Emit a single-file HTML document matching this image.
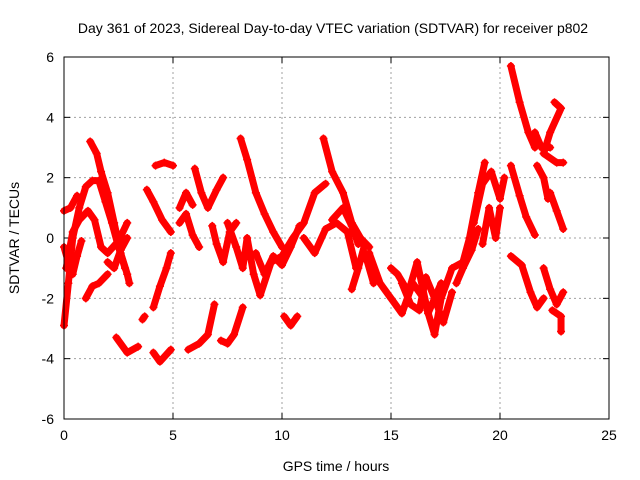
<!DOCTYPE html>
<html><head><meta charset="utf-8"><style>
body{margin:0;background:#fff;}
svg{display:block;font-family:"Liberation Sans",sans-serif;}
</style></head><body>
<svg id="chart" width="640" height="480">
<text x="333" y="33" font-size="14" text-anchor="middle">Day 361 of 2023, Sidereal Day-to-day VTEC variation (SDTVAR) for receiver p802</text>
<text x="336" y="471" font-size="14" text-anchor="middle">GPS time / hours</text>
<text transform="translate(19,238) rotate(-90)" font-size="14" text-anchor="middle">SDTVAR / TECUs</text>
<g id="grid"></g><g id="ticks"></g><g id="marks"></g>
<rect x="64" y="57" width="545" height="362" fill="none" stroke="#000" stroke-width="1"/>
</svg>
<script>
const xTicks=[0,5,10,15,20,25];
const yTicks=[-6,-4,-2,0,2,4,6];
const tracks=[
[[0,-2.9],[0.2,-1.5],[0.4,0],[0.7,1],[1,1.7],[1.3,1.9],[1.6,1.9],[1.9,1.2],[2.2,0.5],[2.5,-0.3],[2.8,-1.0]],
[[1.2,3.2],[1.5,2.8],[1.7,2.2],[2.0,1.5],[2.3,0.5],[2.6,-0.5],[2.9,-1.2],[3.0,-1.5]],
[[0.1,-1.0],[0.4,0.2],[0.7,0.6],[1.1,0.9],[1.4,0.6],[1.7,-0.3],[2.0,-0.5],[2.5,-0.1],[2.9,0.5]],
[[0,0.9],[0.3,1.0],[0.6,1.4]],
[[0,-0.3],[0.2,-0.8],[0.4,-1.2],[0.6,-0.6],[0.8,-0.1]],
[[1.0,-2.0],[1.3,-1.6],[1.6,-1.5],[2.0,-1.2]],
[[2.0,-0.8],[2.3,-1.0],[2.6,-0.4],[2.9,0.0]],
[[2.4,-3.3],[2.9,-3.8],[3.4,-3.6]],
[[3.6,-2.7],[3.7,-2.6]],
[[4.1,-3.8],[4.4,-4.1],[4.9,-3.7]],
[[4.1,-2.3],[4.4,-1.6],[4.7,-1.0],[4.9,-0.5]],
[[4.2,2.4],[4.6,2.5],[5.0,2.4]],
[[3.8,1.6],[4.1,1.2],[4.5,0.6],[4.9,0.2]],
[[5.3,1.0],[5.6,1.5],[5.9,1.1]],
[[5.3,0.5],[5.6,0.8],[5.9,0.1],[6.2,-0.3]],
[[6.0,2.3],[6.3,1.5],[6.6,1.0],[7.0,1.6],[7.3,2.0]],
[[6.8,0.4],[7.0,-0.2],[7.3,-0.8],[7.6,0.2],[7.9,0.5]],
[[5.7,-3.7],[6.2,-3.5],[6.6,-3.2],[6.9,-2.2]],
[[7.2,-3.4],[7.5,-3.5],[7.8,-3.2],[8.2,-2.3]],
[[8.1,3.3],[8.4,2.6],[8.8,1.5],[9.2,0.8],[9.6,0.2],[10,-0.3]],
[[7.5,0.5],[7.9,-0.3],[8.2,-1.0],[8.4,0.0],[8.7,-1.2],[9.0,-1.9],[9.5,-0.8],[10,-0.6],[10.5,0],[11,0.5],[11.5,1.5],[12,1.8]],
[[8.8,-0.5],[9.2,-1.2],[9.6,-0.6],[10.0,-0.9],[10.4,-0.3],[10.8,0.4]],
[[10.1,-2.6],[10.4,-2.9],[10.7,-2.6]],
[[11.9,3.3],[12.3,2.2],[12.8,1.5],[13.2,0.5],[13.6,0.0],[14,-0.3]],
[[11.0,0],[11.5,-0.5],[12.0,0.3],[12.5,0.5],[13,0.2],[13.4,-1.0],[13.8,-0.5],[14.2,-1.5]],
[[13.2,-1.7],[13.5,-1.0],[13.8,-0.2]],
[[12.3,0.6],[12.8,1.0],[13.2,0.4],[13.5,-0.2]],
[[14.0,-0.5],[14.5,-1.5],[15,-2.0],[15.5,-2.5],[16,-1.5],[16.5,-2.0],[17,-3.2],[17.3,-2.0],[17.8,-1.0],[18.3,-0.8],[18.6,0.0],[19,1.5],[19.3,2.5]],
[[15,-1.0],[15.3,-1.2],[15.8,-1.8],[16.2,-0.8],[16.7,-2.5],[17.3,-1.5]],
[[15.5,-1.5],[15.9,-2.2],[16.3,-2.4],[16.6,-1.3],[17.0,-2.0],[17.4,-2.8],[17.8,-1.8]],
[[18.0,-1.5],[18.3,-1.0],[18.7,-0.4],[19.0,0.3]],
[[18.8,0.5],[19.2,1.8],[19.6,2.2],[20.0,1.3],[20.2,2.0]],
[[19.2,-0.2],[19.5,1.0],[19.8,0],[20,1.0]],
[[20.5,5.7],[20.9,4.5],[21.3,3.5],[21.6,3.0]],
[[20.5,2.4],[20.9,1.4],[21.2,0.7],[21.6,0.1]],
[[21.7,2.4],[22.0,2.0],[22.2,1.3]],
[[22.3,1.5],[22.6,0.9],[22.9,0.3]],
[[20.5,-0.6],[21,-0.9],[21.4,-1.8],[21.7,-2.3],[22.0,-2.0]],
[[22.0,-1.0],[22.3,-1.7],[22.6,-2.2],[22.9,-1.8]],
[[22.5,4.5],[22.8,4.3],[22.3,3.5],[22.0,2.8],[22.6,2.5],[22.9,2.5]],
[[21.6,3.5],[21.9,3.0],[22.3,3.0]],
[[22.4,-2.4],[22.8,-2.6],[22.8,-3.1]]
];
const NS='http://www.w3.org/2000/svg';
const X0=64,X1=609,Y0=419,Y1=57;
function sx(t){return X0+(t-0)/(25-0)*(X1-X0);}
function sy(v){return Y0-(v+6)/12*(Y0-Y1);}
function mk(tag,attrs,parent){const e=document.createElementNS(NS,tag);for(const k in attrs)e.setAttribute(k,attrs[k]);parent.appendChild(e);return e;}
const grid=document.getElementById('grid'),ticks=document.getElementById('ticks'),marks=document.getElementById('marks');
xTicks.forEach(t=>{const x=sx(t);
 if(t>0&&t<25){const g=mk('line',{x1:x,x2:x,y1:Y1,y2:Y0,stroke:'#a0a0a0','stroke-dasharray':'2,3'},grid);
 
 }
 mk('line',{x1:x,x2:x,y1:Y0,y2:Y0-6,stroke:'#000'},ticks);mk('line',{x1:x,x2:x,y1:Y1,y2:Y1+6,stroke:'#000'},ticks);
 const l=mk('text',{x:x,y:Y0+21,'font-size':14,'text-anchor':'middle'},ticks);l.textContent=t;
 
 });
yTicks.forEach(v=>{const y=sy(v);
 if(v>-6&&v<6){const g=mk('line',{x1:X0,x2:X1,y1:y,y2:y,stroke:'#a0a0a0','stroke-dasharray':'2,3'},grid);
 
 }
 mk('line',{x1:X0,x2:X0+6,y1:y,y2:y,stroke:'#000'},ticks);mk('line',{x1:X1,x2:X1-6,y1:y,y2:y,stroke:'#000'},ticks);
 const l=mk('text',{x:X0-10,y:y+5,'font-size':14,'text-anchor':'end'},ticks);l.textContent=v;
 
 });
tracks.forEach((tr,i)=>{
 const pl=mk('polyline',{points:tr.map(p=>sx(p[0])+','+sy(p[1])).join(' '),fill:'none',stroke:'#ff0000','stroke-width':7,'stroke-linejoin':'round','stroke-linecap':'round'},marks);
 
 
 tr.forEach(p=>{const x=sx(p[0]),y=sy(p[1]);
  const m=mk('path',{d:`M${x-4},${y}H${x+4}M${x},${y-4}V${y+4}`,stroke:'#ff0000','stroke-width':1.5},marks);
  
  });
});
</script>
</body></html>
